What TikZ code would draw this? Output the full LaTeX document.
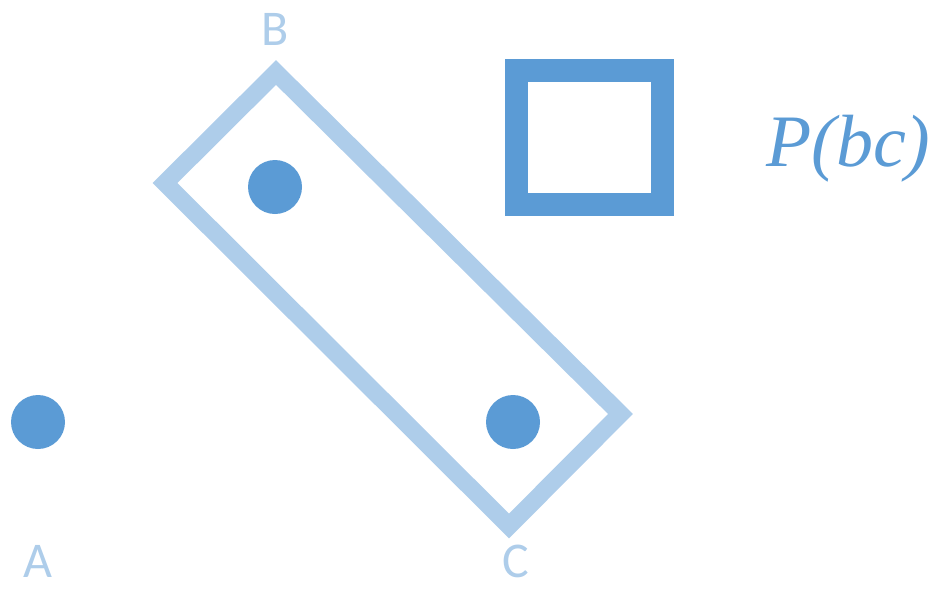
\documentclass[tikz,border=0pt]{standalone}
\usepackage{fontspec}
\setmainfont{Carlito}
\newfontfamily\formulafont{Liberation Serif}
\definecolor{darkblue}{HTML}{5B9BD5}
\definecolor{lightblue}{HTML}{AECDEA}
\begin{document}
\begin{tikzpicture}[x = 1pt, y = -1pt,
		dot/.style = {circle, fill = darkblue, minimum size = 54pt, inner sep = 0pt},
		letter/.style = {anchor = base, inner sep = 0pt, text = lightblue, font = \fontsize{50}{60}\selectfont}]
		\useasboundingbox (0,0) rectangle (944,590);
		\draw [lightblue, line width = 17.5pt] (276,72.5) -- (620.5,414) -- (509,526) -- (165,183) -- cycle;
		\draw [darkblue, line width = 23pt] (516.5,70.5) rectangle (662.5,204);
		\node [dot] (a) at (38,422) {};
		\node [dot] (b) at (275,187) {};
		\node [dot] (c) at (513,422) {};
		\node [letter] (la) at (38,577) {A};
		\node [letter] (lb) at (275,45) {B};
		\node [letter] (lc) at (516,577) {C};
		\node [anchor = base west, inner sep = 0pt, text = darkblue, font = \formulafont\itshape\fontsize{74}{86}\selectfont] (pbc) at (766,166) {P(bc)};
	\end{tikzpicture}
\end{document}
